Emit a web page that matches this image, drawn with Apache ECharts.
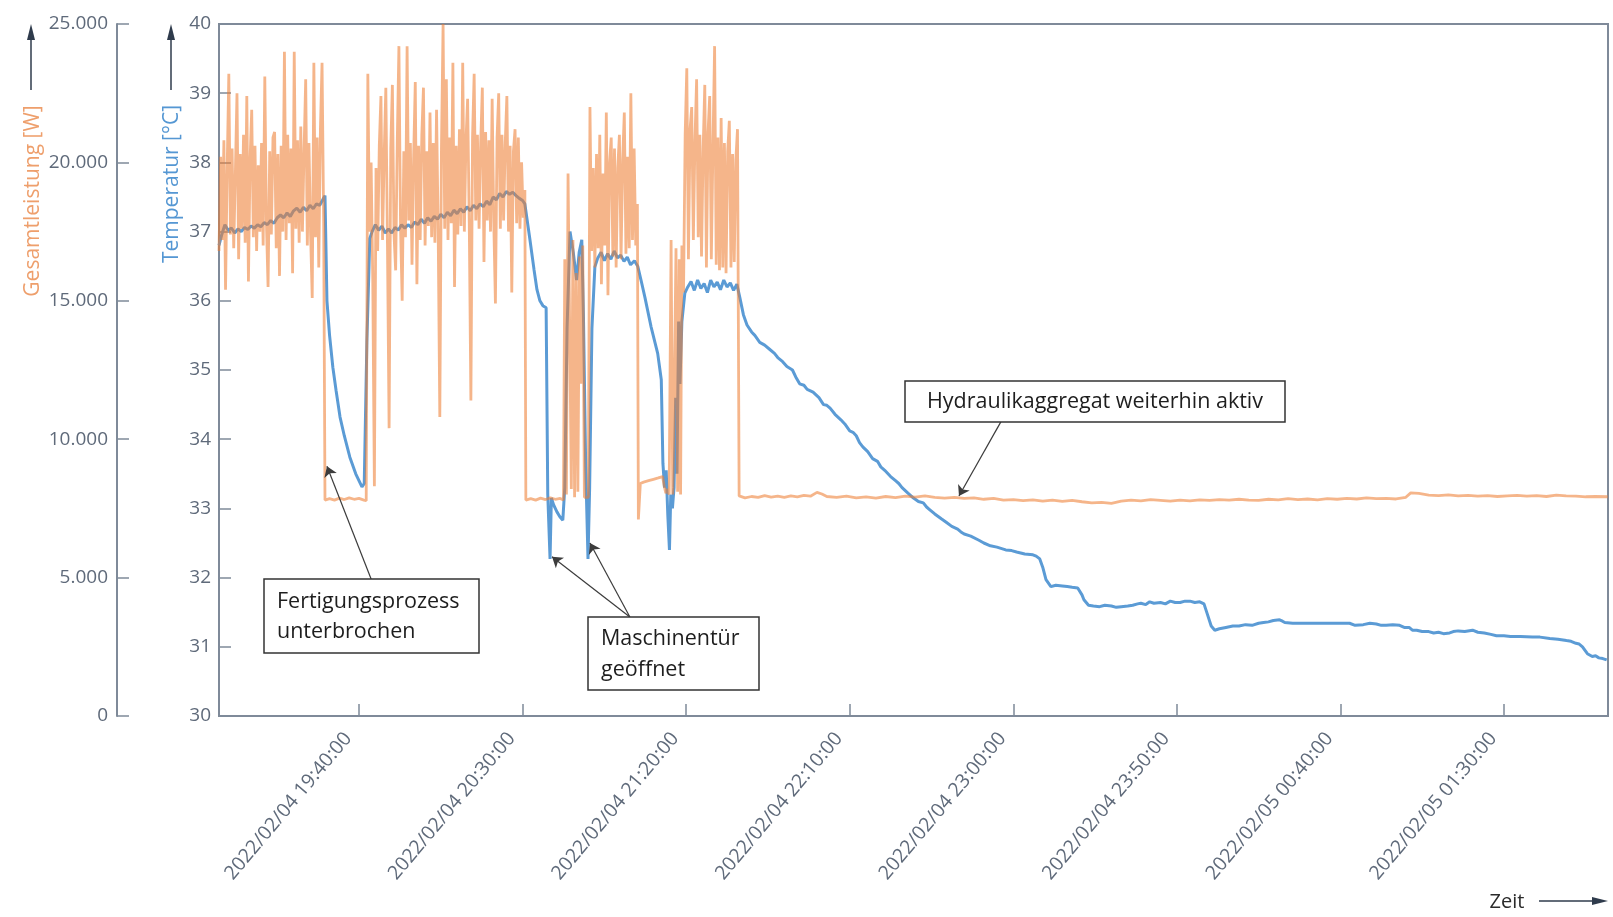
<!DOCTYPE html>
<html>
<head>
<meta charset="utf-8">
<script src="https://cdn.jsdelivr.net/npm/echarts@6/dist/echarts.min.js"></script>
<style>
  html, body { margin: 0; padding: 0; background: #ffffff; }
  #chart { width: 1613px; height: 917px; }
</style>
</head>
<body>
<div id="chart"></div>
<script>
// ---------- DATA (x = minutes after 2022/02/04 00:00) ----------
const xMin = 1137.2;               // 18:57:12
const xMax = 1561.8;               // 02:01:48 next day
const tickMinutes = [1180, 1230, 1280, 1330, 1380, 1430, 1480, 1530];
const tempTicks = [30, 31, 32, 33, 34, 35, 36, 37, 38, 39, 40];
const powerTicks = [0, 5000, 10000, 15000, 20000, 25000];

// Temperatur [°C]
const tempPhase1 = [[1137.2,36.8],[1138,36.95],[1139,37.1],[1140,37.02],[1141,37.05],[1142,36.98],[1143,37.04],[1144,37.0],[1145,37.06],[1146,37.03],[1147,37.08],[1148,37.05],[1149,37.1],[1150,37.07],[1151,37.13],[1152,37.1],[1153,37.16],[1154,37.12],[1155,37.2],[1156,37.24],[1157,37.2],[1158,37.27],[1159,37.22],[1160,37.3],[1161,37.34],[1162,37.28],[1163,37.35],[1164,37.3],[1165,37.38],[1166,37.33],[1167,37.4],[1168,37.38],[1169,37.47],[1169.6,37.52],[1170.2,36.0],[1171,35.5],[1172,35.04],[1173,34.7],[1174.2,34.32],[1175.5,34.05],[1177.2,33.74],[1179,33.5],[1180.9,33.31],[1181.6,33.36],[1182.4,35.4],[1183.3,36.9]];
const tempPhase2 = [[1184,37.0],[1185,37.1],[1186,37.02],[1187,37.08],[1188,36.98],[1189,37.04],[1190,36.98],[1191,37.06],[1192,37.02],[1193,37.1],[1194,37.05],[1195,37.1],[1196,37.06],[1197,37.14],[1198,37.1],[1199,37.18],[1200,37.12],[1201,37.2],[1202,37.15],[1203,37.22],[1204,37.18],[1205,37.25],[1206,37.2],[1207,37.28],[1208,37.23],[1209,37.31],[1210,37.26],[1211,37.33],[1212,37.28],[1213,37.36],[1214,37.3],[1215,37.38],[1216,37.33],[1217,37.4],[1218,37.36],[1219,37.44],[1220,37.39],[1221,37.5],[1222,37.46],[1223,37.55],[1224,37.5],[1225,37.58],[1226,37.54],[1227,37.57],[1228,37.52],[1229,37.48],[1230,37.45],[1230.7,37.4]];
const tempPhase3 = [[1232.2,36.9],[1233.5,36.45],[1234.4,36.16],[1235.3,36.0],[1236.2,35.93],[1237.2,35.9],[1237.7,33.2],[1238.4,32.27],[1238.8,33.15],[1239.5,33.05],[1240.5,32.95],[1241.4,32.88],[1242.3,32.83],[1242.9,33.3],[1243.6,35.6],[1244.5,37.0],[1245.5,36.7],[1246.5,36.3],[1247.3,36.7],[1248.1,36.88],[1248.6,35.8],[1249.3,33.6],[1250.0,32.27],[1250.5,33.3],[1251.2,35.6],[1252.1,36.49],[1253,36.62],[1254,36.7],[1255,36.58],[1256,36.68],[1257,36.6],[1258,36.72],[1259,36.62],[1260,36.66],[1261,36.57],[1262,36.63],[1263,36.52],[1264.2,36.58],[1265.2,36.5],[1266.2,36.3],[1267.4,36.05],[1269.3,35.62],[1271.3,35.24],[1272.4,34.86],[1272.9,33.65],[1273.4,33.3],[1273.9,33.55],[1274.4,32.9],[1274.9,32.4],[1275.3,33.2],[1275.8,33.0],[1276.3,33.3],[1276.8,34.6],[1277.2,33.5],[1277.7,35.7],[1278.1,34.8],[1278.7,35.7],[1279.6,36.11],[1280.5,36.2]];
const tempPhase4 = [[1281.5,36.28],[1282.5,36.15],[1283.5,36.3],[1284.5,36.18],[1285.5,36.25],[1286.5,36.12],[1287.5,36.3],[1288.5,36.2],[1289.5,36.27],[1290.5,36.16],[1291.5,36.3],[1292.5,36.2],[1293.5,36.26],[1294.5,36.15],[1295.5,36.24],[1296.4,36.05],[1297.5,35.8],[1298.6,35.65],[1300,35.55],[1301,35.5],[1302.5,35.4],[1304,35.36],[1305.5,35.3],[1307,35.24],[1308,35.18],[1309.5,35.12],[1310.8,35.05],[1312.5,35.0],[1313.5,34.9],[1314.7,34.8],[1316,34.78],[1317,34.72],[1318.8,34.68],[1320.6,34.6],[1322,34.5],[1323,34.49],[1324,34.45],[1325.5,34.36],[1327.3,34.28],[1328.5,34.22],[1330,34.12],[1331,34.1],[1332,34.05],[1333,33.95],[1334,33.89],[1335.5,33.82],[1337,33.72],[1338.5,33.68],[1339.5,33.6],[1340.7,33.55],[1342.5,33.46],[1344,33.4],[1345,33.36],[1346,33.3],[1347.8,33.22],[1349.5,33.15],[1351,33.1],[1352.5,33.08],[1353.5,33.02],[1354.5,32.98],[1356,32.92],[1358,32.85],[1359.5,32.8],[1361.2,32.74],[1363,32.7],[1364,32.66],[1365,32.63],[1367,32.6],[1369.5,32.54],[1371,32.5],[1373,32.46],[1375,32.44],[1377.7,32.4],[1379.5,32.39],[1381,32.37],[1383.5,32.34],[1386,32.33],[1387,32.31],[1388.1,32.27],[1389,32.15],[1390,31.97],[1391.5,31.87],[1393,31.89],[1395,31.88],[1396.5,31.87],[1398,31.86],[1399.7,31.85],[1401,31.75],[1401.6,31.68],[1403,31.6],[1404.5,31.59],[1406.4,31.58],[1408,31.6],[1410,31.59],[1411.5,31.57],[1413,31.58],[1415,31.59],[1416.5,31.6],[1418,31.62],[1419,31.63],[1420.5,31.61],[1421.7,31.65],[1423,31.63],[1425,31.64],[1426.5,31.62],[1428,31.66],[1429.5,31.64],[1431,31.64],[1432.5,31.66],[1434,31.66],[1435.5,31.64],[1437,31.65],[1438.3,31.62],[1439.2,31.49],[1440.5,31.3],[1441.6,31.24],[1443,31.26],[1445,31.28],[1447.1,31.3],[1449,31.3],[1451,31.32],[1453,31.31],[1455,31.34],[1456.5,31.35],[1458,31.36],[1459.5,31.38],[1461.4,31.39],[1462.3,31.37],[1463,31.35],[1465.4,31.34],[1470,31.34],[1475,31.34],[1480,31.34],[1482.8,31.34],[1484.5,31.31],[1487,31.32],[1489,31.34],[1491,31.33],[1492.5,31.31],[1494,31.31],[1496,31.32],[1498.1,31.31],[1499.5,31.28],[1501,31.28],[1502,31.24],[1503.3,31.24],[1505,31.22],[1507,31.22],[1508.5,31.2],[1510,31.21],[1511.5,31.19],[1513.4,31.2],[1514.5,31.22],[1516,31.23],[1518,31.22],[1520.4,31.24],[1522,31.21],[1524,31.2],[1526,31.18],[1527.7,31.16],[1530,31.16],[1532,31.15],[1535,31.15],[1538.7,31.14],[1541,31.14],[1544,31.12],[1546.5,31.11],[1549.1,31.09],[1550.5,31.08],[1552,31.05],[1553,31.04],[1554,31.0],[1555.5,30.9],[1557,30.86],[1558,30.87],[1559,30.84],[1560.2,30.83],[1561.4,30.81]];

// Gesamtleistung [W]; busy phases are logged every 0.5 min
const sampleStep = 0.5;
const powerBusy1Start = 1137.2;
const powerBusy1 = [16800,20200,17200,20800,15400,19800,23200,17400,20500,16900,19600,22500,16500,20300,17600,21000,17100,22400,15700,20100,21900,17300,20600,16800,19900,17500,20700,17000,23100,17800,15500,20400,17400,20900,21100,16900,20300,15900,20600,17500,24000,17200,21000,17800,20500,16000,24000,17600,20800,17100,21300,17500,20400,23000,17000,20700,17400,15100,23600,17300,20900,16200,21200,23600,17800];
const powerIdle1 = [[1169.6,7800],[1171,7850],[1172.5,7800],[1174,7870],[1175.5,7820],[1177,7880],[1178.5,7830],[1180,7860],[1181.5,7800],[1182.2,7780],[1182.7,23200]];
const powerBusy2Start = 1183.2;
const powerBusy2 = [17500,20000,15800,8300,19800,16800,20600,22400,17200,20300,22700,17000,10400,20500,22800,17400,16100,20800,24200,17600,15000,20400,17300,24200,17900,20700,16300,20200,22900,15600,20600,17200,21000,22700,17000,20400,17700,21800,17300,20700,17100,21900,17500,10800,20500,25000,17600,23000,17200,20900,17800,23600,15500,20600,17400,21200,17700,23600,17500,20800,22300,17800,11400,20900,23200,17900,21000,17600,20700,22700,16400,21100,17900,20800,17500,22300,17800,14900,20900,22500,17600,21000,17900,20700,22400,17500,20600,15300,20400,21200,17800,20900,17600,20000,18000,19000];
const powerIdle2 = [[1231.0,7800],[1232.5,7850],[1234,7800],[1235.5,7870],[1237,7820],[1238.5,7880],[1240,7830],[1241.5,7860],[1242.5,7800],[1242.9,16500],[1243.4,8000],[1243.9,19600],[1244.4,14000],[1244.9,8200],[1245.4,17200],[1245.9,7900],[1246.4,16000],[1246.9,8100],[1247.4,16600],[1247.9,12000],[1248.4,17000],[1248.9,7900],[1249.4,7850],[1250.1,7900]];
const powerBusy3Start = 1250.6;
const powerBusy3 = [22000,16800,19800,16200,20300,16900,21000,15600,19600,17000,21800,15200,20000,20900,16600,20500,16200,19800,21000,16500,20100,21800,16700,20200,16900,22500,17200,20500,17000,18500];
const powerIdle3 = [[1265.4,7100],[1266.0,8400],[1267,8450],[1268.5,8500],[1270,8550],[1271.5,8600],[1272.8,8650],[1273.3,8300],[1273.8,8050],[1274.3,8200],[1274.8,8000],[1275.4,17200],[1275.9,8000],[1276.4,12000],[1276.9,16900],[1277.4,8100],[1277.9,16500],[1278.3,8000],[1278.7,17000]];
const powerBusy4Start = 1279.2;
const powerBusy4 = [15300,21000,23400,16500,21200,22000,17200,20800,23000,17300,21000,16600,20500,22800,16200,21100,22400,16500,20600,24200,16300,20900,16100,21600,16200,20700,16000,20400,21500,16200,20300,16400,20100,21200];
const powerTail = [[1296.2,7950],[1298,7880],[1300,7930],[1302,7900],[1304,7960],[1306,7910],[1308,7940],[1310,7900],[1312,7950],[1314,7920],[1316,7970],[1318,7940],[1320,8080],[1321.5,8020],[1323,7930],[1326,7900],[1329,7940],[1332,7880],[1335,7920],[1338,7870],[1341,7930],[1344,7890],[1347,7940],[1350,7910],[1353,7950],[1356,7900],[1359,7870],[1362,7900],[1365,7860],[1368,7880],[1371,7830],[1374,7860],[1377,7800],[1380,7820],[1383,7780],[1386,7810],[1389,7760],[1392,7800],[1395,7750],[1398,7790],[1401,7740],[1404,7700],[1407,7720],[1410,7680],[1413,7760],[1416,7800],[1419,7770],[1422,7820],[1425,7790],[1428,7760],[1431,7800],[1434,7770],[1437,7810],[1440,7790],[1443,7820],[1446,7800],[1449,7830],[1452,7800],[1455,7790],[1458,7830],[1461,7810],[1464,7850],[1467,7820],[1470,7840],[1473,7810],[1476,7850],[1479,7830],[1482,7860],[1485,7840],[1488,7880],[1491,7850],[1494,7860],[1497,7840],[1500,7900],[1501.5,8060],[1504,8040],[1507,7980],[1510,7960],[1513,7990],[1516,7950],[1519,7970],[1522,7940],[1525,7960],[1528,7930],[1531,7950],[1534,7970],[1537,7940],[1540,7960],[1543,7930],[1546,7980],[1549,7950],[1552,7940],[1555,7920],[1558,7930],[1561.7,7920]];

// Annotation arrows (data coordinates: [minute, °C])
const arrowFertigung = [[1183.7, 31.98], [1170.2, 33.61]];
const arrowTuerA = [[1262.8, 31.43], [1239.0, 32.30]];
const arrowTuerB = [[1262.8, 31.43], [1250.6, 32.50]];
const arrowHydraulik = [[1376.2, 34.25], [1363.4, 33.18]];

// ---------- BUILD ----------
function sampled(start, values) {
  return values.map((v, i) => [Math.round((start + i * sampleStep) * 100) / 100, v]);
}
const tempData = [].concat(tempPhase1, tempPhase2, tempPhase3, tempPhase4);
const powerData = [].concat(
  sampled(powerBusy1Start, powerBusy1), powerIdle1,
  sampled(powerBusy2Start, powerBusy2), powerIdle2,
  sampled(powerBusy3Start, powerBusy3), powerIdle3,
  sampled(powerBusy4Start, powerBusy4), powerTail
);

function pad(n) { return String(n).padStart(2, '0'); }
function minuteLabel(m) {
  const day = 4 + Math.floor(m / 1440);
  const r = Math.round(m - Math.floor(m / 1440) * 1440);
  return '2022/02/' + pad(day) + ' ' + pad(Math.floor(r / 60)) + ':' + pad(r % 60) + ':00';
}
function thousands(v) { return String(v).replace(/\B(?=(\d{3})+(?!\d))/g, '.'); }

const FONT = "'Open Sans', 'Noto Sans', sans-serif";
const AXIS_COLOR = '#7f8a99';
const LABEL_COLOR = '#5f6a7a';
const ARROW_COLOR = '#2f3b4c';

function arrowMark(pair) {
  return [{ coord: pair[0] }, { coord: pair[1] }];
}

const chart = echarts.init(document.getElementById('chart'), null, { renderer: 'canvas' });
chart.setOption({
  backgroundColor: '#ffffff',
  animation: false,
  textStyle: { fontFamily: FONT },
  grid: {
    left: 219, right: 5, top: 24, bottom: 201,
    show: true, borderColor: AXIS_COLOR, borderWidth: 2, backgroundColor: 'transparent'
  },
  xAxis: {
    type: 'value', min: xMin, max: xMax,
    axisLine: { show: true, lineStyle: { color: AXIS_COLOR, width: 2 } },
    axisTick: { show: true, inside: true, length: 12, customValues: tickMinutes, lineStyle: { color: AXIS_COLOR, width: 1.5 } },
    axisLabel: {
      show: true, customValues: tickMinutes, rotate: 50, margin: 6,
      padding: [0, 17, 0, 0],
      color: LABEL_COLOR, fontSize: 19.5, fontFamily: FONT,
      formatter: v => minuteLabel(v)
    },
    splitLine: { show: false }
  },
  yAxis: [
    {
      type: 'value', min: 30, max: 40, interval: 1, position: 'left', offset: 0,
      axisLine: { show: true, onZero: false, lineStyle: { color: AXIS_COLOR, width: 2 } },
      axisTick: { show: true, inside: true, length: 12, lineStyle: { color: AXIS_COLOR, width: 1.5 } },
      axisLabel: { color: LABEL_COLOR, fontSize: 19, fontFamily: FONT, margin: 8,
        formatter: v => tempTicks.includes(v) ? String(v) : '' },
      splitLine: { show: false }
    },
    {
      type: 'value', min: 0, max: 25000, interval: 5000, position: 'left', offset: 102,
      axisLine: { show: true, onZero: false, lineStyle: { color: AXIS_COLOR, width: 2 } },
      axisTick: { show: true, inside: true, length: 12, lineStyle: { color: AXIS_COLOR, width: 1.5 } },
      axisLabel: { color: LABEL_COLOR, fontSize: 19, fontFamily: FONT, margin: 9,
        formatter: v => powerTicks.includes(v) ? thousands(v) : '' },
      splitLine: { show: false }
    }
  ],
  series: [
    {
      name: 'Temperatur', type: 'line', yAxisIndex: 0, data: tempData,
      showSymbol: false, symbol: 'none', z: 2, silent: true,
      lineStyle: { color: '#5B9BD5', width: 3 },
      markLine: {
        silent: true, symbol: ['none', 'arrow'], symbolSize: 10, animation: false,
        label: { show: false },
        lineStyle: { color: '#3c3c3c', width: 1.2, type: 'solid' },
        data: [arrowMark(arrowFertigung), arrowMark(arrowTuerA), arrowMark(arrowTuerB), arrowMark(arrowHydraulik)]
      }
    },
    {
      name: 'Gesamtleistung', type: 'line', yAxisIndex: 1, data: powerData,
      showSymbol: false, symbol: 'none', z: 3, silent: true,
      lineStyle: { color: '#ED7D31', width: 2.8, opacity: 0.57 }
    }
  ],
  graphic: [
    // axis titles
    { type: 'text', x: 33, y: 201, rotation: Math.PI / 2,
      style: { text: 'Gesamtleistung [W]', fill: '#EE9F6C', font: "21px " + FONT, align: 'center', verticalAlign: 'middle' } },
    { type: 'text', x: 172, y: 184, rotation: Math.PI / 2,
      style: { text: 'Temperatur [°C]', fill: '#5597D3', font: "21px " + FONT, align: 'center', verticalAlign: 'middle' } },
    // up arrows
    { type: 'line', shape: { x1: 31, y1: 38, x2: 31, y2: 90 }, style: { stroke: ARROW_COLOR, lineWidth: 1.5 } },
    { type: 'polygon', shape: { points: [[31, 24], [27, 40], [35, 40]] }, style: { fill: ARROW_COLOR } },
    { type: 'line', shape: { x1: 171, y1: 38, x2: 171, y2: 90 }, style: { stroke: ARROW_COLOR, lineWidth: 1.5 } },
    { type: 'polygon', shape: { points: [[171, 24], [167, 40], [175, 40]] }, style: { fill: ARROW_COLOR } },
    // Zeit
    { type: 'text', x: 1507, y: 902, style: { text: 'Zeit', fill: '#2b2b2b', font: "20px " + FONT, align: 'center', verticalAlign: 'middle' } },
    { type: 'line', shape: { x1: 1539, y1: 901, x2: 1594, y2: 901 }, style: { stroke: ARROW_COLOR, lineWidth: 1.5 } },
    { type: 'polygon', shape: { points: [[1608, 901], [1592, 897], [1592, 905]] }, style: { fill: ARROW_COLOR } },
    // annotation boxes
    { type: 'rect', z: 10, shape: { x: 264, y: 579, width: 215, height: 74 }, style: { fill: '#ffffff', stroke: '#333333', lineWidth: 1.5 } },
    { type: 'text', z: 11, x: 277, y: 617, style: { text: 'Fertigungsprozess\nunterbrochen', fill: '#1e1e1e', font: "21.5px " + FONT, lineHeight: 30, verticalAlign: 'middle' } },
    { type: 'rect', z: 10, shape: { x: 588, y: 617, width: 171, height: 73 }, style: { fill: '#ffffff', stroke: '#333333', lineWidth: 1.5 } },
    { type: 'text', z: 11, x: 601, y: 654, style: { text: 'Maschinentür\ngeöffnet', fill: '#1e1e1e', font: "21.5px " + FONT, lineHeight: 31, verticalAlign: 'middle' } },
    { type: 'rect', z: 10, shape: { x: 905, y: 381, width: 380, height: 41 }, style: { fill: '#ffffff', stroke: '#333333', lineWidth: 1.5 } },
    { type: 'text', z: 11, x: 1095, y: 402, style: { text: 'Hydraulikaggregat weiterhin aktiv', fill: '#1e1e1e', font: "21.5px " + FONT, align: 'center', verticalAlign: 'middle' } }
  ]
});
</script>
</body>
</html>
